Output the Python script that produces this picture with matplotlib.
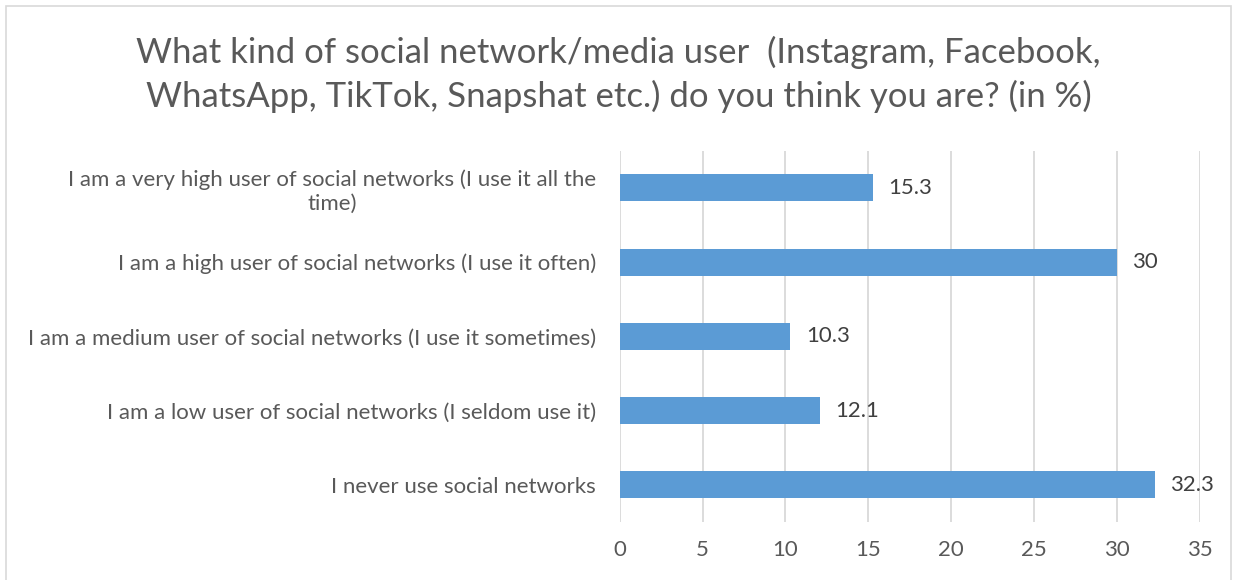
import matplotlib.pyplot as plt
from matplotlib.patches import Rectangle

# survey answers, top to bottom as shown
categories = [
    "I am a very high user of social networks (I use it all the\ntime)",
    "I am a high user of social networks (I use it often)",
    "I am a medium user of social networks (I use it sometimes)",
    "I am a low user of social networks (I seldom use it)",
    "I never use social networks",
]
values = [15.3, 30, 10.3, 12.1, 32.3]
value_labels = ["15.3", "30", "10.3", "12.1", "32.3"]
xticks = [0, 5, 10, 15, 20, 25, 30, 35]

title = ("What kind of social network/media user  (Instagram, Facebook,\n"
         "WhatsApp, TikTok, Snapshat etc.) do you think you are? (in %)")

TEXT = "#595959"
BAR = "#5B9BD5"
GRID = "#D9D9D9"

plt.rcParams["font.family"] = ["Lato", "DejaVu Sans"]

fig = plt.figure(figsize=(12.37, 5.80), dpi=100)
ax = fig.add_axes([0.501, 0.10, 0.469, 0.640])

ypos = list(range(len(categories)))
ax.barh(ypos, values, height=0.365, color=BAR, zorder=3)

for y, v, lab in zip(ypos, values, value_labels):
    ax.annotate(lab, (v, y), xytext=(11, 0), textcoords="offset points",
                va="center", ha="left", fontsize=16, color="#404040")

ax.set_xlim(0, 35)
ax.set_ylim(len(categories) - 0.5, -0.5)
ax.set_xticks(xticks)
ax.set_yticks(ypos)
ax.set_yticklabels(categories, multialignment="center")
ax.tick_params(axis="both", length=0, labelsize=16, colors=TEXT)
ax.tick_params(axis="y", pad=17)
ax.tick_params(axis="x", pad=13)
ax.xaxis.grid(True, color=GRID, linewidth=1.3, zorder=0)
for s in ax.spines.values():
    s.set_visible(False)

fig.text(0.5, 0.871, title, ha="center", va="center", fontsize=25,
         color=TEXT, linespacing=1.4)

# light border around the chart area
fig.patches.append(Rectangle((0.005, -0.01), 0.99, 1.0, transform=fig.transFigure,
                             fill=False, edgecolor="#D9D9D9", linewidth=1.2))

fig.savefig("out.png", dpi=100)
